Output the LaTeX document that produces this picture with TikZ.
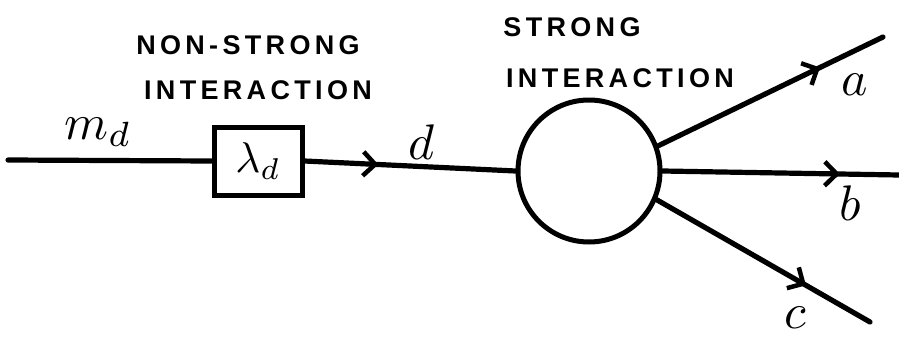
\documentclass[tikz,border=0pt]{standalone}
\usepackage{fontspec}
\usetikzlibrary{arrows.meta,decorations.markings}
\newfontfamily\capsfont[LetterSpace=16]{Liberation Sans}
\begin{document}
\begin{tikzpicture}[x=1pt,y=-1pt,
  wire/.style={line width=5.2pt,line cap=round},
  midarrow/.style={postaction={decorate},decoration={markings,
    mark=at position #1 with {\arrow[line width=4.5pt]{Straight Barb[length=12pt,width=24pt]}}}},
  caps/.style={font=\capsfont\fontsize{27}{30}\selectfont\bfseries,inner sep=0pt},
  lab/.style={inner sep=0pt}]
\useasboundingbox (0,0) rectangle (899,340);
\node[draw,line width=5pt,minimum width=88pt,minimum height=68pt,inner sep=0pt] (box) at (258,161) {\scalebox{4.3}{$\lambda_d$}};
\node[draw,circle,line width=5pt,minimum size=142pt,inner sep=0pt] (blob) at (589,171) {};
\coordinate (in) at (8,160);
\coordinate (aend) at (883,37);
\coordinate (bend) at (899,175);
\coordinate (cend) at (870,322);
\draw[wire] (in) -- (box.west);
\draw[wire,midarrow=0.35] (box.east) -- (blob.west);
\draw[wire,midarrow=0.72] (blob.20) -- (aend);
\draw[wire,midarrow=0.75] (blob.east) -- (bend);
\draw[wire,midarrow=0.7] (blob.-23) -- (cend);
\node[caps] (ns) at (248,45) {NON-STRONG};
\node[caps] (ni) at (258,90) {INTERACTION};
\node[caps] (ss) at (572,27) {STRONG};
\node[caps] (si) at (620,78) {INTERACTION};
\node[lab] (md) at (98,132) {\scalebox{5}{$m_d$}};
\node[lab] (dl) at (422,142) {\scalebox{5}{$d$}};
\node[lab] (al) at (855,85) {\scalebox{5}{$a$}};
\node[lab] (bl) at (850,203) {\scalebox{5}{$b$}};
\node[lab] (cl) at (795,318) {\scalebox{5}{$c$}};
\end{tikzpicture}
\end{document}
